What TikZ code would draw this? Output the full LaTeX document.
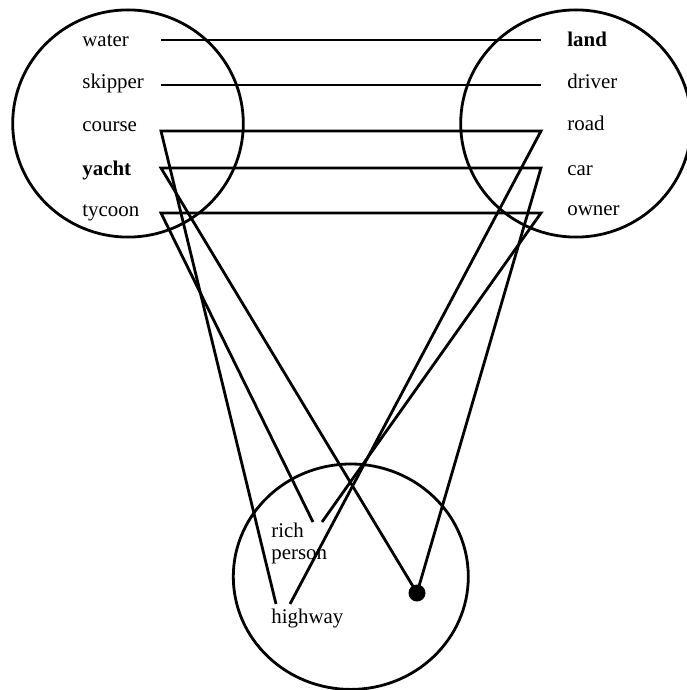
\documentclass[tikz,border=0pt]{standalone}
\usepackage{fontspec}
\setmainfont{Liberation Serif}
\begin{document}
\begin{tikzpicture}[x=1pt,y=-1pt,line width=2.8pt,font=\fontsize{20.9}{22}\selectfont,
  lbl/.style={inner sep=0pt,anchor=base west},
  blob/.style={circle,fill=black,inner sep=0pt,minimum size=17pt}]
\def \xl{161};
\def \xr{541};
\useasboundingbox (0,0) rectangle (686,690);
\draw (128,123.5) ellipse (115.3 and 113.6);
\draw (576,123.5) ellipse (115.3 and 113.6);
\draw (350.8,576.7) ellipse (117.5 and 112.7);

\foreach \n/\s/\y/\b in {water/water/40/46.5, skipper/skipper/85/89, course/course/131/131.5, yacht/\textbf{yacht}/168/175, tycoon/tycoon/213/216}{
  \node[lbl] (\n) at (81,\b) {\s};
  \coordinate (\n-e) at (\xl,\y);}
\foreach \n/\s/\y/\b in {land/\textbf{land}/40/46.5, driver/driver/85/89, road/road/131/131, car/car/168/175, owner/owner/213/215.5}{
  \node[lbl] (\n) at (566,\b) {\s};
  \coordinate (\n-e) at (\xr,\y);}

\node[lbl] (rich) at (270,537) {rich};
\node[lbl] (person) at (270,559) {person};
\node[lbl] (highway) at (270,623) {highway};
\coordinate (rich-a) at (313,522);
\coordinate (rich-b) at (322,522);
\coordinate (highway-a) at (276,604);
\coordinate (highway-b) at (290,604);
\node[blob] (dot) at (417,593) {};

\draw (water-e) -- (land-e);
\draw (skipper-e) -- (driver-e);
\draw (highway-a) -- (course-e) -- (road-e) -- (highway-b);
\draw (dot.center) -- (yacht-e) -- (car-e) -- (dot.center);
\draw (rich-a) -- (tycoon-e) -- (owner-e) -- (rich-b);
\end{tikzpicture}
\end{document}
